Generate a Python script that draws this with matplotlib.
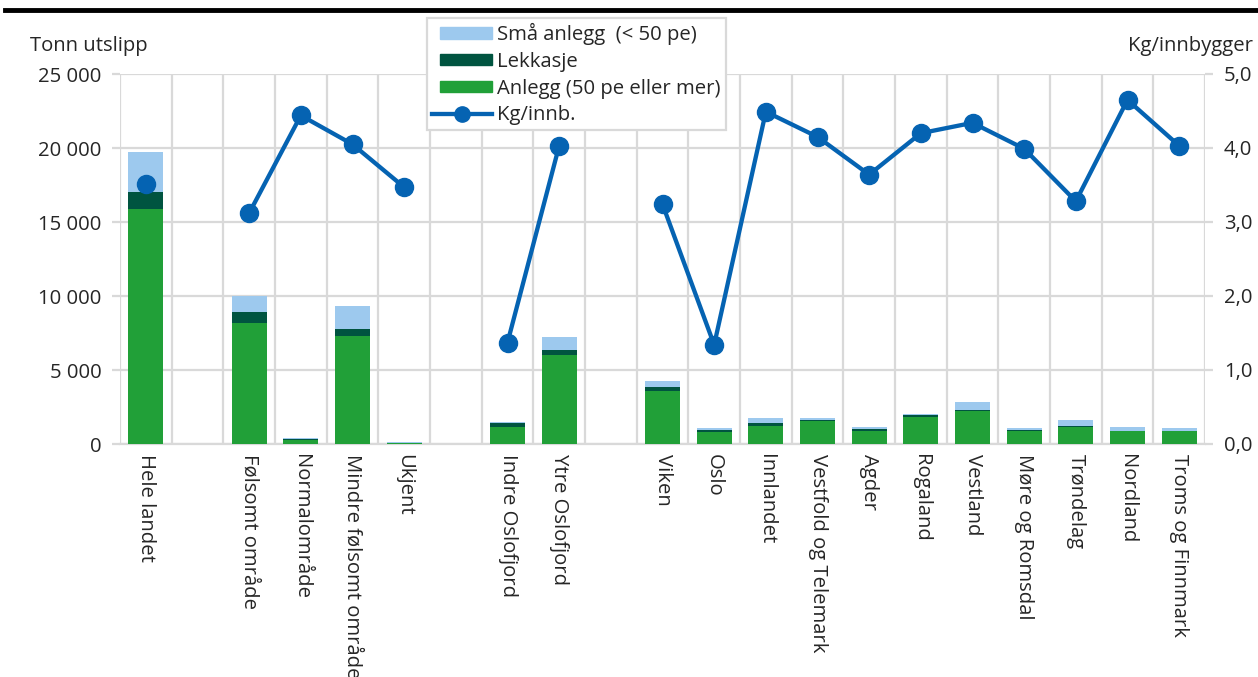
import numpy as np
import matplotlib
matplotlib.use("Agg")
import matplotlib.pyplot as plt
from matplotlib.lines import Line2D
from matplotlib.patches import Patch, Rectangle
from matplotlib.legend_handler import HandlerPatch
from matplotlib.ticker import FuncFormatter, FixedLocator

plt.rcParams['font.family'] = ['Open Sans', 'DejaVu Sans']

# Categories ('' = empty spacer slot)
categories = ["Hele landet", "", "Følsomt område", "Normalområde", "Mindre følsomt område", "Ukjent", "",
              "Indre Oslofjord", "Ytre Oslofjord", "",
              "Viken", "Oslo", "Innlandet", "Vestfold og Telemark", "Agder", "Rogaland", "Vestland",
              "Møre og Romsdal", "Trøndelag", "Nordland", "Troms og Finnmark"]

anlegg = [15900, 0, 8200, 300, 7300, 60, 0, 1170, 6000, 0,
          3600, 800, 1250, 1530, 900, 1800, 2200, 850, 1180, 850, 850]
lekkasje = [1100, 0, 750, 20, 450, 0, 0, 230, 350, 0,
            250, 170, 180, 100, 110, 150, 100, 70, 70, 60, 60]
smaa = [2750, 0, 1050, 80, 1550, 50, 0, 100, 880, 0,
        430, 90, 350, 150, 140, 80, 520, 170, 350, 260, 170]
kg_innb = [3.52, np.nan, 3.12, 4.44, 4.05, 3.47, np.nan, 1.37, 4.03, np.nan,
           3.24, 1.34, 4.49, 4.15, 3.64, 4.20, 4.34, 3.99, 3.28, 4.65, 4.03]

c_smaa = "#9DC9EE"
c_lekk = "#005440"
c_anl = "#21A038"
c_line = "#0563B2"
grid_c = "#D9D9D9"
txt_c = "#262626"
FS = 14.6

fig = plt.figure(figsize=(12.58, 6.77), dpi=100)
ax = fig.add_axes([120/1258, 1-444/677, (1205-120)/1258, (444-74)/677])
ax2 = ax.twinx()

x = np.arange(len(categories))
w = 0.68
a = np.array(anlegg, float)
l = np.array(lekkasje, float)
s = np.array(smaa, float)
ax.bar(x, a, w, color=c_anl, zorder=3)
ax.bar(x, l, w, bottom=a, color=c_lekk, zorder=3)
ax.bar(x, s, w, bottom=a+l, color=c_smaa, zorder=3)

ax.set_xlim(-0.5, len(categories)-0.5)
ax.set_ylim(0, 25000)
ax2.set_ylim(0, 5.0)

ax2.plot(x, kg_innb, color=c_line, lw=3.1, marker='o', markersize=13, zorder=5)

# grids
ax.set_yticks(np.arange(0, 25001, 5000))
ax.yaxis.set_major_formatter(FuncFormatter(lambda v, p: f"{int(v):,}".replace(",", " ")))
ax2.set_yticks(np.arange(0, 5.01, 1.0))
ax2.yaxis.set_major_formatter(FuncFormatter(lambda v, p: f"{v:.1f}".replace(".", ",")))
ax.grid(axis='y', color=grid_c, lw=1.6, zorder=0)
ax.xaxis.set_minor_locator(FixedLocator(np.arange(-0.5, len(categories), 1.0)))
ax.grid(axis='x', which='minor', color=grid_c, lw=1.6, zorder=0)
ax.set_xticks(x)
ax.set_xticklabels(categories, rotation=270, ha='center', va='top', fontsize=FS, color=txt_c)
ax.tick_params(axis='x', which='both', length=0, pad=7)
ax.tick_params(axis='y', length=5.5, width=1.6, color=grid_c, labelsize=FS, labelcolor=txt_c, pad=8)
ax2.tick_params(axis='y', length=5.5, width=1.6, color=grid_c, labelsize=FS, labelcolor=txt_c, pad=8)

for sp in ['top', 'left', 'right']:
    ax.spines[sp].set_visible(False)
    ax2.spines[sp].set_visible(False)
ax.spines['bottom'].set_color(grid_c)
ax.spines['bottom'].set_linewidth(1.6)
ax2.spines['bottom'].set_visible(False)
ax.set_zorder(ax2.get_zorder() - 1)
ax.patch.set_visible(True)
ax2.patch.set_visible(False)

fig.text(30/1258, 1-46/677, "Tonn utslipp", fontsize=FS, color=txt_c, ha='left', va='center')
fig.text(1253/1258, 1-46/677, "Kg/innbygger", fontsize=FS, color=txt_c, ha='right', va='center')

OFF = 6.0  # pixels of left offset for swatches


def patch_func(legend, orig_handle, xdescent, ydescent, width, height, fontsize):
    return Rectangle((-xdescent + OFF, -ydescent), width - OFF, height)


handles = [Patch(color=c_smaa), Patch(color=c_lekk), Patch(color=c_anl),
           Line2D([], [], color=c_line, lw=3.1, marker='o', markersize=11)]
labels = ["Små anlegg  (< 50 pe)", "Lekkasje", "Anlegg (50 pe eller mer)", "Kg/innb."]
leg = ax2.legend(handles, labels, loc='upper left', bbox_to_anchor=((427-120)/1085, (444-18)/370),
                 borderaxespad=0, fontsize=FS, frameon=True, fancybox=False, framealpha=1,
                 edgecolor=grid_c, handlelength=2.95, handleheight=0.5, handletextpad=0.25,
                 labelspacing=0.33, borderpad=0.25,
                 handler_map={Patch: HandlerPatch(patch_func=patch_func)})
leg.get_frame().set_linewidth(1.6)
for t in leg.get_texts():
    t.set_color(txt_c)

fig.add_artist(Line2D([5/1258, 1], [1-10/677, 1-10/677], color='black', lw=3.5))

fig.savefig("out.png", dpi=100)
